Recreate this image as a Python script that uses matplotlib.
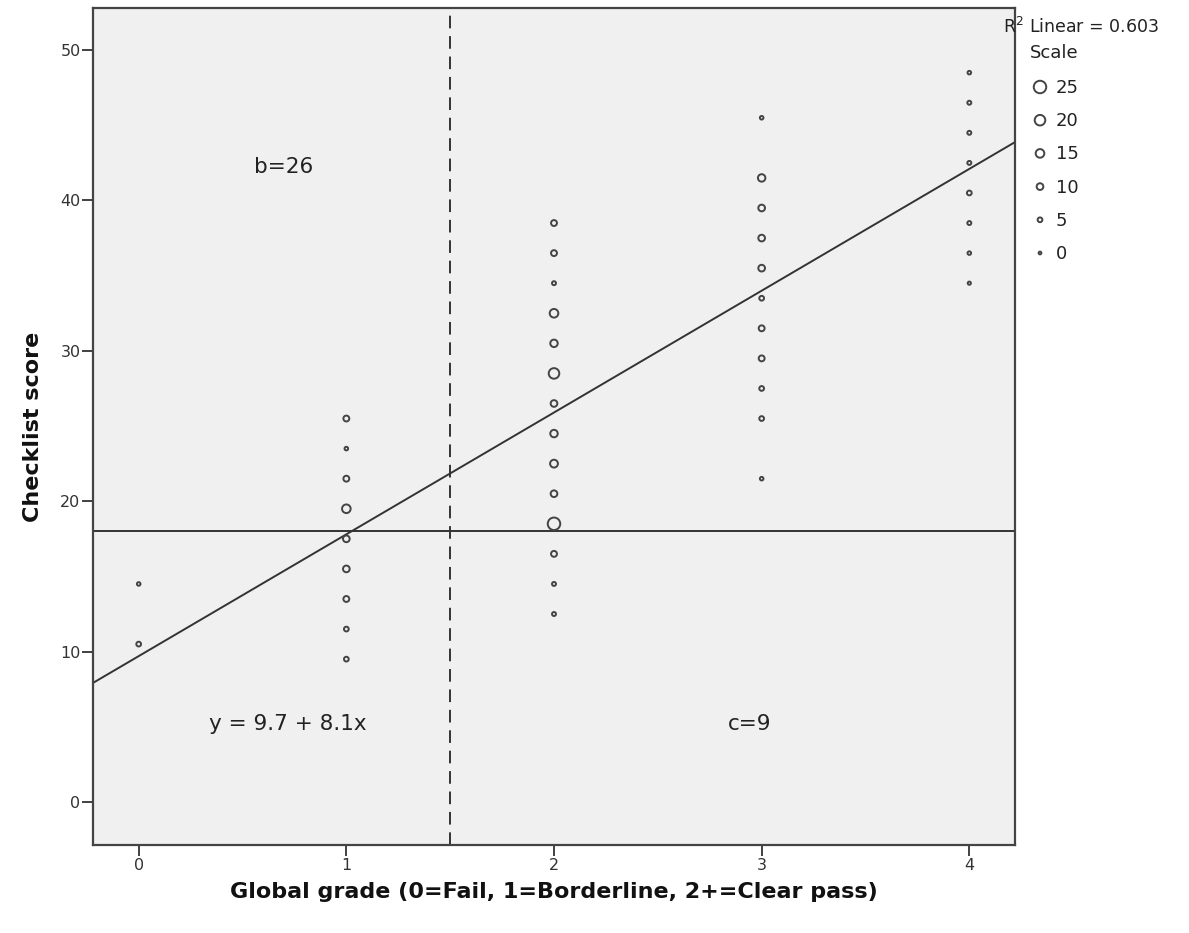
import matplotlib
matplotlib.use("Agg")
import matplotlib.pyplot as plt

plt.rcParams['font.family'] = ['DejaVu Sans']

# Data: global grade, checklist score, count (scale)
grade0_scores = [14.5, 10.5]
grade0_counts = [2, 5]
grade1_scores = [25.5, 23.5, 21.5, 19.5, 17.5, 15.5, 13.5, 11.5, 9.5]
grade1_counts = [8, 2, 8, 15, 10, 10, 8, 5, 5]
grade2_scores = [38.5, 36.5, 34.5, 32.5, 30.5, 28.5, 26.5, 24.5, 22.5, 20.5, 18.5, 16.5, 14.5, 12.5]
grade2_counts = [8, 8, 3, 15, 12, 20, 10, 12, 13, 10, 25, 8, 3, 3]
grade3_scores = [45.5, 41.5, 39.5, 37.5, 35.5, 33.5, 31.5, 29.5, 27.5, 25.5, 21.5]
grade3_counts = [2, 12, 10, 10, 10, 5, 8, 8, 5, 5, 2]
grade4_scores = [48.5, 46.5, 44.5, 42.5, 40.5, 38.5, 36.5, 34.5]
grade4_counts = [2, 3, 3, 3, 5, 3, 2, 1]

intercept = 9.7
slope = 8.1
r_squared = 0.603
cutoff_score = 18
cutoff_grade = 1.5
legend_values = [25, 20, 15, 10, 5, 0]

def msize(v):
    d_px = 2.8 + 9.7 * v / 25.0
    return (d_px * 0.72) ** 2

W, H = 1189, 933
fig = plt.figure(figsize=(W / 100, H / 100), dpi=100)
ax = fig.add_axes([93 / W, 1 - 845 / H, (1015 - 93) / W, (845 - 8) / H])
ax.set_facecolor('#f0f0f0')

groups = [(0, grade0_scores, grade0_counts), (1, grade1_scores, grade1_counts),
          (2, grade2_scores, grade2_counts), (3, grade3_scores, grade3_counts),
          (4, grade4_scores, grade4_counts)]
for g, sc, cn in groups:
    ax.scatter([g] * len(sc), sc, s=[msize(c) for c in cn], facecolors='none',
               edgecolors='#444444', linewidths=1.4, zorder=3)

xl = (-0.22, 4.22)
ax.plot(xl, [intercept + slope * x for x in xl], color='#333333', lw=1.4, zorder=2)
ax.axhline(cutoff_score, color='#333333', lw=1.4, zorder=2)
ax.axvline(cutoff_grade, color='#333333', lw=1.4, ls=(0, (6.5, 4)), zorder=2)

ax.set_xlim(*xl)
ax.set_ylim(-2.86, 52.8)
ax.set_xticks([0, 1, 2, 3, 4])
ax.set_yticks([0, 10, 20, 30, 40, 50])
ax.tick_params(labelsize=11.5, colors='#333333', length=8, width=1.3, pad=1,
               labelcolor='#333333')

for sp in ax.spines.values():
    sp.set_color('#444444')
    sp.set_linewidth(1.6)

ax.set_xlabel('Global grade (0=Fail, 1=Borderline, 2+=Clear pass)', fontsize=16,
              fontweight='bold', labelpad=7, color='#111111')
ax.set_ylabel('Checklist score', fontsize=16, fontweight='bold', labelpad=12,
              color='#111111')

ax.text(0.70, 42.2, 'b=26', fontsize=15.5, ha='center', va='center', color='#222222')
ax.text(0.72, 5.2, 'y = 9.7 + 8.1x', fontsize=15.5, ha='center', va='center', color='#222222')
ax.text(2.94, 5.2, 'c=9', fontsize=15.5, ha='center', va='center', color='#222222')

# Legend drawn in a pixel-coordinate overlay
lax = fig.add_axes([0, 0, 1, 1], zorder=5)
lax.set_xlim(0, W)
lax.set_ylim(H, 0)
lax.axis('off')
lax.text(1003, 27, 'R$^2$ Linear = %.3f' % r_squared, fontsize=12.5, ha='left', va='center',
         color='#222222')
lax.text(1030, 53, 'Scale', fontsize=13, ha='left', va='center', color='#222222')
for i, v in enumerate(legend_values):
    yy = 87 + i * 33.2
    lax.scatter([1040], [yy], s=msize(v), facecolors='none', edgecolors='#444444',
                linewidths=1.4)
    lax.text(1056, yy + 1, str(v), fontsize=13, ha='left', va='center', color='#222222')

fig.savefig('out.png', dpi=100, facecolor='white')
